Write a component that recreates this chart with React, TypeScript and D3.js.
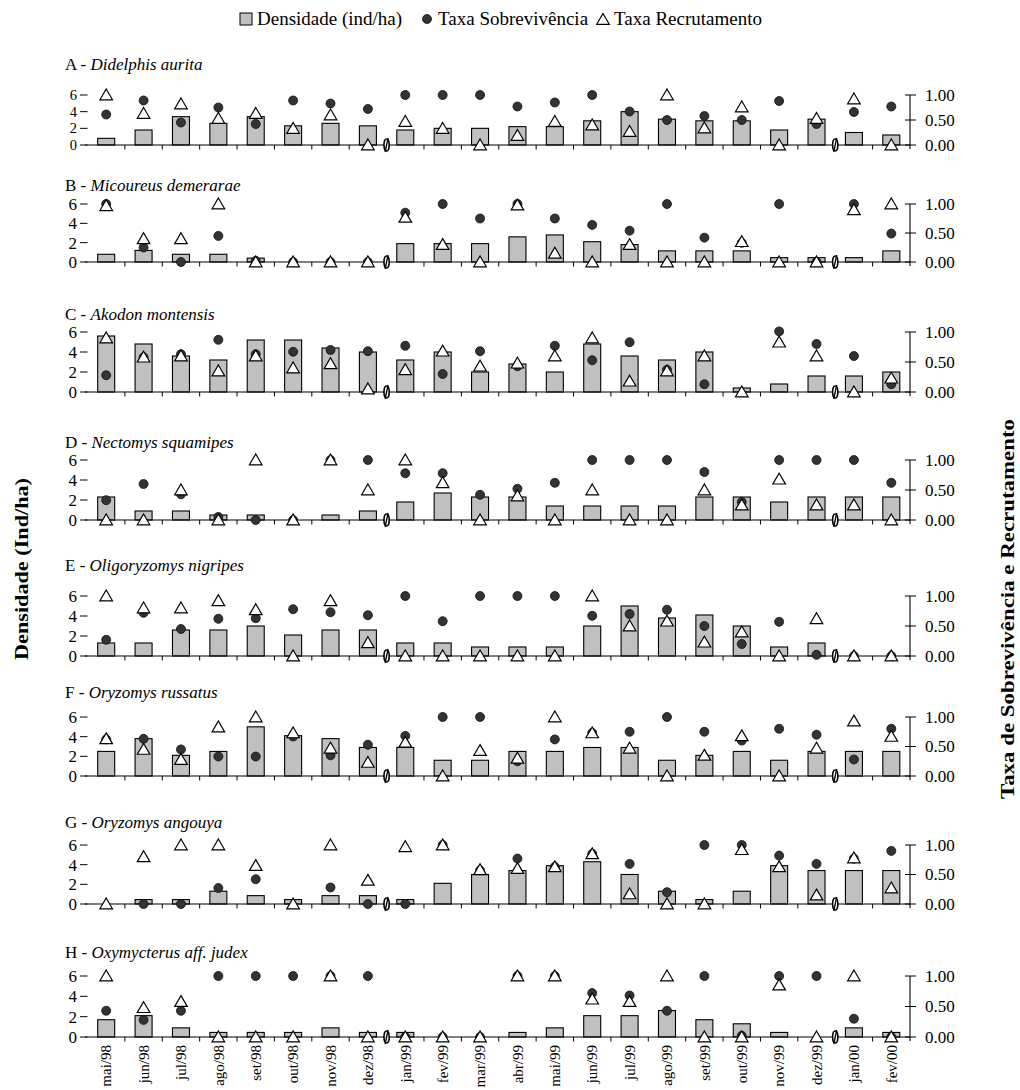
import React from "react";
import * as d3 from "d3";

const months = ["mai/98","jun/98","jul/98","ago/98","set/98","out/98","nov/98","dez/98","jan/99","fev/99","mar/99","abr/99","mai/99","jun/99","jul/99","ago/99","set/99","out/99","nov/99","dez/99","jan/00","fev/00"];
const breakBefore = ["jan/99", "jan/00"];
const densTicks = [0, 2, 4, 6];
const rateTicks = [0, 0.5, 1];
const legendLabels = ["Densidade (ind/ha)", "Taxa Sobrevivência", "Taxa Recrutamento"];
const leftTitle = "Densidade (Ind/ha)";
const rightTitle = "Taxa de Sobrevivência e Recrutamento";

const panelLetters = ["A","B","C","D","E","F","G","H"];
const speciesNames = ["Didelphis aurita","Micoureus demerarae","Akodon montensis","Nectomys squamipes","Oligoryzomys nigripes","Oryzomys russatus","Oryzomys angouya","Oxymycterus aff. judex"];

// densities (ind/ha)
const densA = [0.8,1.8,3.4,2.6,3.4,2.3,2.6,2.3,1.8,2.0,2.0,2.2,2.2,2.9,4.0,3.1,2.9,2.9,1.8,3.1,1.5,1.2];
const densB = [0.8,1.2,0.8,0.8,0.4,0,0,0,1.9,1.9,1.9,2.6,2.8,2.1,1.8,1.15,1.15,1.15,0.45,0.45,0.45,1.15];
const densC = [5.6,4.8,3.6,3.2,5.2,5.2,4.4,4.0,3.2,4.0,2.0,2.8,2.0,4.8,3.6,3.2,4.0,0.4,0.8,1.6,1.6,2.0];
const densD = [2.3,0.9,0.9,0.5,0.5,0,0.5,0.9,1.8,2.7,2.3,2.3,1.4,1.4,1.4,1.4,2.3,2.3,1.8,2.3,2.3,2.3];
const densE = [1.3,1.3,2.6,2.6,3.0,2.1,2.6,2.6,1.3,1.3,0.9,0.9,0.9,3.0,5.0,3.8,4.1,3.0,0.9,1.3,0,0];
const densF = [2.5,3.8,2.1,2.5,5.0,4.1,3.8,2.9,2.9,1.6,1.6,2.5,2.5,2.9,2.9,1.6,2.1,2.5,1.6,2.5,2.5,2.5];
const densG = [0,0.45,0.45,1.3,0.85,0.45,0.85,0.85,0.45,2.1,3.0,3.4,3.9,4.3,3.0,1.3,0.45,1.3,3.9,3.4,3.4,3.4];
const densH = [1.7,2.1,0.9,0.45,0.45,0.45,0.9,0.45,0.45,0,0,0.45,0.9,2.1,2.1,2.6,1.7,1.3,0.45,0,0.9,0.45];

// survival rates
const survA = [0.61,0.89,0.45,0.75,0.42,0.89,0.83,0.72,1.0,1.0,1.0,0.77,0.85,1.0,0.67,0.5,0.58,0.5,0.88,0.42,0.66,0.77];
const survB = [1.0,0.25,0.0,0.45,0.02,0.0,0.0,0.0,0.85,1.0,0.75,1.0,0.75,0.64,0.54,1.0,0.42,0.33,1.0,0.0,1.0,0.49];
const survC = [0.28,0.58,0.63,0.87,0.63,0.67,0.70,0.68,0.77,0.30,0.68,0.43,0.77,0.53,0.83,0.37,0.13,null,1.01,0.80,0.60,0.13];
const survD = [0.33,0.60,0.43,0.05,0.0,0.0,1.0,1.0,0.78,0.78,0.42,0.52,0.62,1.0,1.0,1.0,0.80,0.30,1.0,1.0,1.0,0.62];
const survE = [0.27,0.72,0.45,0.62,0.63,0.78,0.73,0.68,1.0,0.58,1.0,1.0,1.0,0.67,0.70,0.77,0.50,0.20,0.57,0.02,0.0,0.0];
const survF = [0.62,0.63,0.45,0.33,0.33,0.67,0.35,0.53,0.68,1.0,1.0,0.25,0.62,0.73,0.75,1.0,0.75,0.60,0.80,0.70,0.28,0.80];
const survG = [null,0.0,0.0,0.27,0.42,null,0.28,0.0,0.0,1.0,0.57,0.77,0.63,0.85,0.68,0.20,1.0,1.0,0.82,0.68,0.77,0.90];
const survH = [0.43,0.28,0.43,1.0,1.0,1.0,1.0,1.0,0.0,0.0,0.0,1.0,1.0,0.72,0.68,0.43,1.0,0.02,1.0,1.0,0.30,0.0];

// recruitment rates
const recrA = [1.0,0.63,0.82,0.53,0.63,0.33,0.6,0.0,0.47,0.33,0.0,0.19,0.47,0.40,0.27,1.0,0.34,0.76,0.0,0.53,0.92,0.0];
const recrB = [0.97,0.40,0.40,1.0,0.0,0.0,0.0,0.0,0.77,0.30,0.0,0.98,0.15,0.0,0.30,0.0,0.0,0.35,0.0,0.0,0.9,1.0];
const recrC = [0.90,0.58,0.60,0.35,0.60,0.40,0.47,0.05,0.37,0.68,0.43,0.48,0.60,0.90,0.18,0.35,0.60,0.0,0.83,0.60,0.0,0.23];
const recrD = [0,0,0.5,0,1.0,0,1.0,0.5,1.0,0.62,0,0.40,0,0.5,0,0,0.5,0.25,0.68,0.25,0.25,0];
const recrE = [1.0,0.80,0.80,0.92,0.77,0.0,0.92,0.22,0.0,0.0,0.0,0.0,0.0,1.0,0.50,0.58,0.23,0.40,0.0,0.62,0.0,0.0];
const recrF = [0.63,0.45,0.28,0.83,1.0,0.73,0.47,0.23,0.57,0.0,0.43,0.30,1.0,0.73,0.47,0.0,0.35,0.68,0.0,0.47,0.93,0.67];
const recrG = [0,0.80,1.0,1.0,0.65,0.0,1.0,0.40,0.97,1.0,0.58,0.60,0.63,0.85,0.17,0.0,0.0,0.92,0.63,0.15,0.78,0.27];
const recrH = [1.0,0.48,0.58,0.0,0.0,0.0,1.0,0.0,0.0,0.0,0.0,1.0,1.0,0.62,0.58,1.0,0.0,0.0,0.85,0.0,1.0,0.0];

const densAll = [densA, densB, densC, densD, densE, densF, densG, densH];
const survAll = [survA, survB, survC, survD, survE, survF, survG, survH];
const recrAll = [recrA, recrB, recrC, recrD, recrE, recrF, recrG, recrH];

// layout (pixels)
const panelTop = [95, 204, 332, 460, 596, 717, 845, 976];
const panelBottom = [145, 262, 392, 520, 656, 776, 904, 1037];
const titleY = [70, 191, 320, 448, 571, 698, 828, 958];

const FONT = '"Liberation Serif", "Times New Roman", Times, "DejaVu Serif", serif';
const X0 = 87.5, X1 = 910;
const BAR_W = 17;

function triPath(cx: number, cy: number) {
  return `M${cx},${cy - 6}L${cx + 6.3},${cy + 4.8}L${cx - 6.3},${cy + 4.8}Z`;
}

function Panel({ idx }: { idx: number }) {
  const top = panelTop[idx], bottom = panelBottom[idx];
  const x = d3.scaleBand<string>().domain(months).range([X0, X1]).padding(0);
  const yL = d3.scaleLinear().domain([0, 6]).range([bottom, top]);
  const yR = d3.scaleLinear().domain([0, 1]).range([bottom, top]);
  const bw = x.bandwidth();
  const cx = (m: string) => (x(m) as number) + bw / 2;
  const dens = densAll[idx], surv = survAll[idx], recr = recrAll[idx];
  const isLast = idx === 7;
  const leftFs = bottom - top < 55 ? 14.5 : 17;
  return (
    <g>
      <text x={65} y={titleY[idx]} fontSize={17} fontFamily={FONT}>
        {panelLetters[idx]} - <tspan fontStyle="italic">{speciesNames[idx]}</tspan>
      </text>
      {/* left ticks */}
      {densTicks.map((t) => (
        <g key={"l" + t}>
          <line x1={80} x2={X0} y1={yL(t)} y2={yL(t)} stroke="#000" strokeWidth={1} />
          <text x={77} y={yL(t)} dy="0.35em" textAnchor="end" fontSize={leftFs} fontFamily={FONT}>{t}</text>
        </g>
      ))}
      {/* bars */}
      {months.map((m, i) =>
        dens[i] > 0 ? (
          <rect key={"b" + m} x={cx(m) - BAR_W / 2} y={yL(dens[i])} width={BAR_W} height={yL(0) - yL(dens[i])}
            fill="#c0c0c0" stroke="#000" strokeWidth={1.1} />
        ) : null
      )}
      {/* x axis */}
      <line x1={85} x2={X1} y1={yL(0)} y2={yL(0)} stroke="#000" strokeWidth={1.1} />
      {months.slice(1).map((m) => (
        <line key={"t" + m} x1={x(m) as number} x2={x(m) as number} y1={yL(0)} y2={yL(0) + 4.5} stroke="#000" strokeWidth={1} />
      ))}
      {/* right axis */}
      <line x1={X1} x2={X1} y1={yR(1)} y2={yR(0) + 4} stroke="#000" strokeWidth={1.1} />
      {rateTicks.map((t) => (
        <g key={"r" + t}>
          <line x1={X1 - 5} x2={X1 + 6} y1={yR(t)} y2={yR(t)} stroke="#000" strokeWidth={1} />
          <text x={925} y={yR(t)} dy="0.35em" fontSize={17} fontFamily={FONT}>{d3.format(".2f")(t)}</text>
        </g>
      ))}
      {/* survival dots */}
      {months.map((m, i) =>
        surv[i] == null ? null : (
          <circle key={"s" + m} cx={cx(m)} cy={yR(surv[i] as number)} r={4.5} fill="#333" stroke="#111" strokeWidth={0.8} />
        )
      )}
      {/* recruitment triangles */}
      {months.map((m, i) =>
        recr[i] == null ? null : (
          <path key={"r" + m} d={triPath(cx(m), yR(recr[i] as number))} fill="#fff" stroke="#000" strokeWidth={1.2} />
        )
      )}
      {/* break marks */}
      {breakBefore.map((m) => {
        const bx = x(m) as number;
        const by = yL(0);
        return (
          <g key={"br" + m}>
            <ellipse cx={bx} cy={by} rx={2.6} ry={6} fill="#fff" stroke="#000" strokeWidth={1.6} />
            <line x1={bx + 1.5} x2={bx - 1.5} y1={by - 7} y2={by + 7} stroke="#000" strokeWidth={1.3} />
          </g>
        );
      })}
      {isLast &&
        months.map((m) => (
          <text key={"xl" + m} transform={`translate(${cx(m)},${yL(0) + 8}) rotate(-90)`} textAnchor="end" dy="0.35em"
            fontSize={15} fontFamily={FONT}>{m}</text>
        ))}
    </g>
  );
}

export default function App() {
  return (
    <svg width={1020} height={1090} viewBox="0 0 1020 1090" style={{ display: "block", position: "absolute", left: 0, top: 0 }}>
      <rect width={1020} height={1090} fill="#fff" />
      {/* legend */}
      <g fontFamily={FONT} fontSize={19}>
        <rect x={240} y={13} width={12} height={12} fill="#c0c0c0" stroke="#000" strokeWidth={1} />
        <text x={257} y={25}>{legendLabels[0]}</text>
        <circle cx={427} cy={19} r={4.5} fill="#333" stroke="#111" strokeWidth={0.8} />
        <text x={438} y={25}>{legendLabels[1]}</text>
        <path d={triPath(603, 19.5)} fill="#fff" stroke="#000" strokeWidth={1.2} />
        <text x={614} y={25}>{legendLabels[2]}</text>
      </g>
      {panelLetters.map((_, i) => (
        <Panel key={i} idx={i} />
      ))}
      <text transform="translate(28,569) rotate(-90)" textAnchor="middle" fontFamily={FONT} fontWeight="bold" fontSize={19}
        textLength={182} lengthAdjust="spacingAndGlyphs">{leftTitle}</text>
      <text transform="translate(1014,609) rotate(-90)" textAnchor="middle" fontFamily={FONT} fontWeight="bold" fontSize={18}
        textLength={380} lengthAdjust="spacingAndGlyphs">{rightTitle}</text>
    </svg>
  );
}
